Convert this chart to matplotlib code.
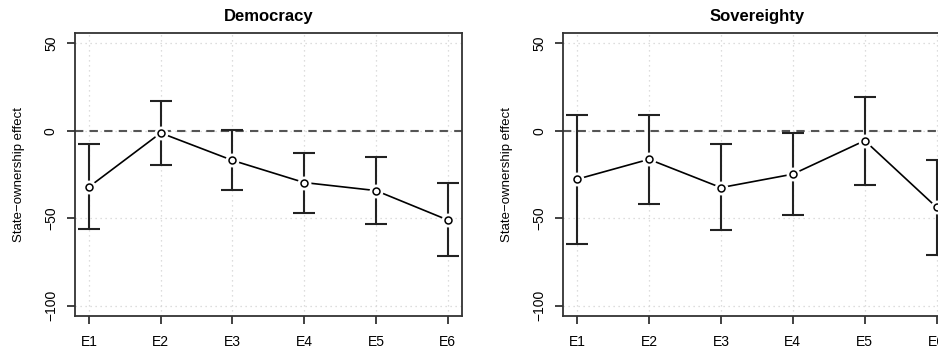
import matplotlib
matplotlib.use("Agg")
import matplotlib.pyplot as plt
import numpy as np

plt.rcParams['font.family'] = ['Liberation Sans', 'DejaVu Sans']

labels = ['E1', 'E2', 'E3', 'E4', 'E5', 'E6']

# Democracy panel
dem_est = [-32.1, -1.2, -16.9, -29.6, -34.2, -51.0]
dem_hi = [-7.7, 17.1, 0.2, -12.7, -14.8, -30.0]
dem_lo = [-56.3, -19.4, -34.0, -46.9, -53.5, -71.7]

# Sovereighty panel
sov_est = [-27.7, -16.3, -32.5, -24.8, -5.6, -43.8]
sov_hi = [9.2, 9.2, -7.7, -1.3, 19.6, -16.7]
sov_lo = [-64.6, -41.9, -56.7, -48.3, -30.8, -71.2]

yticks = [-100, -50, 0, 50]


def panel(ax, title, est, lo, hi):
	x = np.arange(1, len(labels) + 1)
	est = np.array(est)
	err = [est - np.array(lo), np.array(hi) - est]

	ax.set_xlim(0.8, 6.2)
	ax.set_ylim(-106, 56)

	for t in x:
		ax.axvline(t, color='#d3d3d3', lw=0.9, ls=(0, (1, 3)), zorder=0)
	for t in yticks:
		ax.axhline(t, color='#d3d3d3', lw=0.9, ls=(0, (1, 3)), zorder=0)
	ax.axhline(0, color='#555555', lw=1.5, ls=(0, (4, 3)), zorder=1)

	ax.errorbar(x, est, yerr=err, fmt='none', ecolor='#222222', elinewidth=1.5,
				capsize=7.8, capthick=1.5, zorder=2)
	ax.plot(x, est, color='black', lw=1.2, zorder=3)
	ax.plot(x, est, 'o', ms=10, mfc='white', mec='none', zorder=4)
	ax.plot(x, est, 'o', ms=5, mfc='white', mec='black', mew=1.1, zorder=5)

	ax.set_xticks(x)
	ax.set_xticklabels(labels, fontsize=10)
	ax.set_yticks(yticks)
	ax.set_yticklabels([str(v).replace('-', '\u2212') for v in yticks],
					   rotation=90, va='center', fontsize=10)
	ax.tick_params(axis='both', length=6, width=1.3, color='#333333', pad=6)
	ax.tick_params(axis='x', pad=8)
	ax.set_ylabel('State\u2212ownership effect', fontsize=9.5, labelpad=14)
	ax.set_title(title, fontsize=12, fontweight='bold', pad=9)
	for s in ax.spines.values():
		s.set_linewidth(1.3)
		s.set_color('#333333')


fig = plt.figure(figsize=(9.38, 3.5), dpi=100)
ax1 = fig.add_axes([0.0796, 0.0971, 0.4129, 0.8086])
ax2 = fig.add_axes([0.5999, 0.0971, 0.414, 0.8086])

panel(ax1, 'Democracy', dem_est, dem_lo, dem_hi)
panel(ax2, 'Sovereighty', sov_est, sov_lo, sov_hi)

fig.savefig('out.png', dpi=100)
